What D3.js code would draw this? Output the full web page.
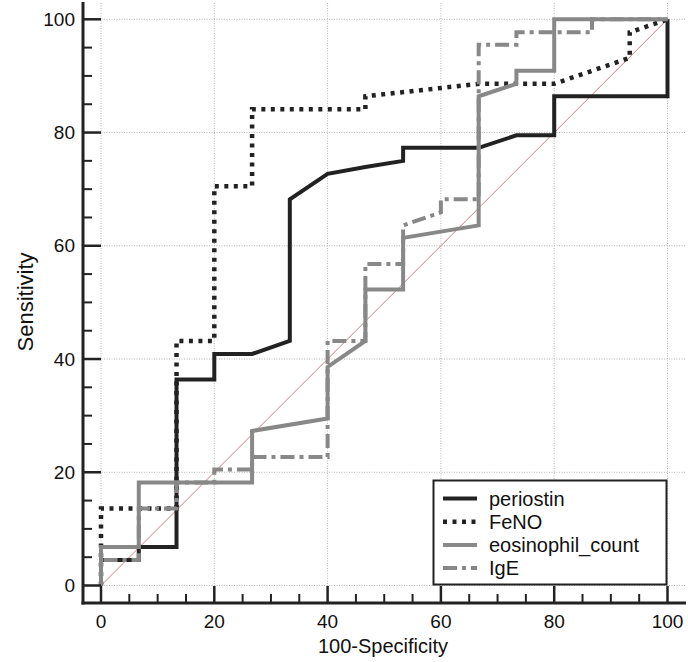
<!DOCTYPE html>
<html>
<head>
<meta charset="utf-8">
<script src="https://cdn.jsdelivr.net/npm/d3@7"></script>
<style>
  html, body { margin: 0; padding: 0; background: #fff; }
  svg { display: block; font-family: "Liberation Sans", Arial, sans-serif; }
</style>
</head>
<body>
<svg id="chart" width="688" height="662"></svg>
<script>
// ---- Data (100-Specificity, Sensitivity) ----
const periostinX = [0, 0, 6.67, 6.67, 13.33, 13.33, 20, 20, 26.67, 33.33, 33.33, 40, 46.67, 53.33, 53.33, 66.67, 73.33, 80, 80, 100, 100];
const periostinY = [0, 4.5, 4.5, 6.8, 6.8, 36.4, 36.4, 40.9, 40.9, 43.2, 68.2, 72.7, 73.9, 75.0, 77.3, 77.3, 79.5, 79.5, 86.4, 86.4, 100];

const fenoX = [0, 0, 13.33, 13.33, 20, 20, 26.67, 26.67, 46.67, 46.67, 66.67, 80, 86.67, 93.33, 93.33, 100];
const fenoY = [0, 13.6, 13.6, 43.2, 43.2, 70.5, 70.5, 84.1, 84.1, 86.4, 88.6, 88.6, 90.9, 93.2, 97.7, 100];

const eosX = [0, 0, 6.67, 6.67, 26.67, 26.67, 40, 40, 46.67, 46.67, 53.33, 53.33, 66.67, 66.67, 73.33, 73.33, 80, 80, 100];
const eosY = [0, 6.8, 6.8, 18.2, 18.2, 27.3, 29.5, 38.6, 43.2, 52.3, 52.3, 61.4, 63.6, 86.4, 88.6, 90.9, 90.9, 100, 100];

const igeX = [0, 0, 6.67, 6.67, 13.33, 13.33, 20, 20, 26.67, 26.67, 40, 40, 46.67, 46.67, 53.33, 53.33, 60, 60, 66.67, 66.67, 73.33, 73.33, 86.67, 86.67, 100];
const igeY = [0, 4.5, 4.5, 13.6, 13.6, 18.2, 18.2, 20.5, 20.5, 22.7, 22.7, 43.2, 43.2, 56.8, 56.8, 63.6, 65.9, 68.2, 68.2, 95.5, 95.5, 97.7, 97.7, 100, 100];

const seriesNames = ["periostin", "FeNO", "eosinophil_count", "IgE"];
const xTicks = [0, 20, 40, 60, 80, 100];
const yTicks = [0, 20, 40, 60, 80, 100];
const minorTicks = d3.range(0, 101, 5);
const xTitle = "100-Specificity";
const yTitle = "Sensitivity";

// ---- Styles ----
const styles = {
  "periostin":        { color: "#222", width: 4, dash: null },
  "FeNO":             { color: "#222", width: 4.5, dash: "4,5.5" },
  "eosinophil_count": { color: "#888", width: 4, dash: null },
  "IgE":              { color: "#888", width: 4, dash: "14,5,4,5" }
};

const series = [
  { name: "periostin", pts: periostinX.map((x, i) => [x, periostinY[i]]) },
  { name: "FeNO", pts: fenoX.map((x, i) => [x, fenoY[i]]) },
  { name: "eosinophil_count", pts: eosX.map((x, i) => [x, eosY[i]]) },
  { name: "IgE", pts: igeX.map((x, i) => [x, igeY[i]]) }
];

const svg = d3.select("#chart");
const x = d3.scaleLinear().domain([0, 100]).range([101, 667.5]);
const y = d3.scaleLinear().domain([0, 100]).range([585.5, 19.3]);

const frameLeft = 83, frameRight = 686, frameTop = 2, frameBottom = 603;
const axisColor = "#222";

// Grid
const grid = svg.append("g");
grid.selectAll("line.vg").data(xTicks).join("line")
  .attr("x1", d => x(d)).attr("x2", d => x(d))
  .attr("y1", frameTop + 1).attr("y2", frameBottom - 1)
  .attr("stroke", "#b5b5b5").attr("stroke-width", 1).attr("stroke-dasharray", "1,1.5");
grid.selectAll("line.hg").data(yTicks).join("line")
  .attr("x1", frameLeft + 1).attr("x2", frameRight - 1)
  .attr("y1", d => y(d)).attr("y2", d => y(d))
  .attr("stroke", "#b5b5b5").attr("stroke-width", 1).attr("stroke-dasharray", "1,1.5");

// Reference diagonal
svg.append("line")
  .attr("x1", x(0)).attr("y1", y(0)).attr("x2", x(100)).attr("y2", y(100))
  .attr("stroke", "#c07070").attr("stroke-width", 0.9);

// Curves
const line = d3.line().x(d => x(d[0])).y(d => y(d[1]));
series.forEach(s => {
  const st = styles[s.name];
  svg.append("path")
    .attr("d", line(s.pts))
    .attr("fill", "none")
    .attr("stroke", st.color)
    .attr("stroke-width", st.width)
    .attr("stroke-linejoin", "miter")
    .attr("stroke-dasharray", st.dash);
});

// Axes (offset from data area)
const tickLen = 17;
const xAxisG = svg.append("g").attr("transform", `translate(0,${frameBottom})`);
const xAxis = d3.axisBottom(x).tickValues(xTicks).tickSize(0).tickPadding(0);
xAxisG.call(xAxis);
xAxisG.select(".domain").remove();
xAxisG.selectAll(".tick text").remove();
xAxisG.append("line").attr("x1", frameLeft - 1.5).attr("x2", frameRight)
  .attr("y1", 0).attr("y2", 0).attr("stroke", axisColor).attr("stroke-width", 3);
xAxisG.selectAll("line.minor").data(minorTicks).join("line")
  .attr("x1", d => x(d)).attr("x2", d => x(d))
  .attr("y1", 0).attr("y2", d => d % 20 === 0 ? -tickLen : -9)
  .attr("stroke", axisColor).attr("stroke-width", d => d % 20 === 0 ? 2.5 : 2);
xAxisG.selectAll("text.tl").data(xTicks).join("text")
  .attr("x", d => x(d)).attr("y", 25)
  .attr("text-anchor", "middle")
  .attr("font-size", 19).attr("fill", "#111")
  .text(d => d);

const yAxisG = svg.append("g").attr("transform", `translate(${frameLeft},0)`);
yAxisG.append("line").attr("x1", 0).attr("x2", 0)
  .attr("y1", frameTop).attr("y2", frameBottom + 1.5)
  .attr("stroke", axisColor).attr("stroke-width", 3);
yAxisG.selectAll("line.minor").data(minorTicks).join("line")
  .attr("x1", 0).attr("x2", d => d % 20 === 0 ? tickLen + 1 : 9)
  .attr("y1", d => y(d)).attr("y2", d => y(d))
  .attr("stroke", axisColor).attr("stroke-width", d => d % 20 === 0 ? 2.5 : 2);
yAxisG.selectAll("text.tl").data(yTicks).join("text")
  .attr("x", -8).attr("y", d => y(d))
  .attr("dy", "0.35em")
  .attr("text-anchor", "end")
  .attr("font-size", 19).attr("fill", "#111")
  .text(d => d);

// Axis titles
svg.append("text")
  .attr("x", 383).attr("y", 653)
  .attr("text-anchor", "middle")
  .attr("font-size", 20).attr("fill", "#111")
  .text(xTitle);
svg.append("text")
  .attr("transform", "translate(33,302) rotate(-90)")
  .attr("text-anchor", "middle")
  .attr("font-size", 22).attr("fill", "#111")
  .text(yTitle);

// Legend
const lg = svg.append("g");
lg.append("rect")
  .attr("x", 433.5).attr("y", 480.5).attr("width", 233).attr("height", 104)
  .attr("fill", "#fff").attr("stroke", "#222").attr("stroke-width", 2);
const rowY = [498.5, 521.8, 545, 568];
seriesNames.forEach((name, i) => {
  const st = styles[name];
  lg.append("line")
    .attr("x1", 443).attr("x2", 477)
    .attr("y1", rowY[i]).attr("y2", rowY[i])
    .attr("stroke", st.color).attr("stroke-width", st.width)
    .attr("stroke-dasharray", st.dash);
  lg.append("text")
    .attr("x", 489).attr("y", rowY[i]).attr("dy", "0.35em")
    .attr("font-size", 20).attr("fill", "#111")
    .text(name);
});
</script>
</body>
</html>
